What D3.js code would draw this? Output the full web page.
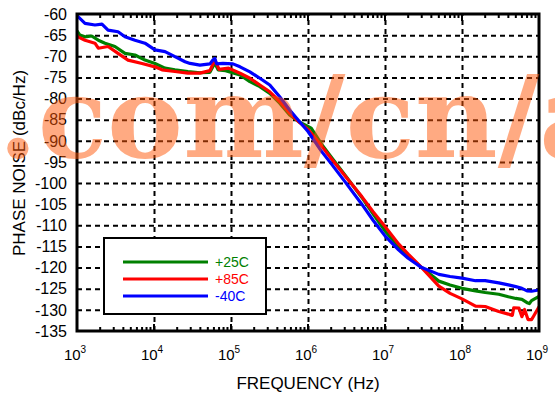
<!DOCTYPE html>
<html lang="en">
<head>
<meta charset="utf-8">
<title>Phase noise vs frequency</title>
<script src="https://cdn.jsdelivr.net/npm/d3@7"></script>
<style>
  body { margin: 0; background: #fff; }
  #chart text { font-family: "Liberation Sans", Arial, sans-serif; fill: #000; }
  .grid line { stroke: #000; stroke-width: 2; stroke-dasharray: 5,4; }
  .grid path { display: none; }
</style>
</head>
<body>
<div id="chart"></div>
<script>
// +25C (green)
var freq25 = [1e3, 1.09e3, 1.27e3, 1.55e3, 1.89e3, 2.31e3, 3.11e3, 4.2e3, 5.66e3, 7.63e3, 1.03e4, 1.39e4, 1.87e4, 2.76e4, 3.95e4, 5.32e4, 6.17e4, 6.8e4, 8.5e4, 1.31e5, 1.76e5, 2.37e5, 3.19e5, 4.29e5, 5.78e5, 7.78e5, 1e6, 1.1e6, 1.5e6, 2e6, 3e6, 5e6, 7e6, 1e7, 1.5e7, 2e7, 3e7, 5e7, 7e7, 1e8, 1.5e8, 2e8, 3e8, 4e8, 5e8, 6e8, 7e8, 7.5e8, 8e8, 1e9];
var pn25 = [-64.0, -65.0, -65.4, -65.2, -66.2, -66.9, -67.7, -69.3, -69.7, -70.9, -71.7, -72.8, -73.2, -73.6, -73.9, -73.8, -71.6, -73.2, -73.4, -74.4, -76.0, -77.2, -78.8, -81.1, -83.9, -85.6, -86.6, -87.0, -90.8, -93.8, -98.0, -103.4, -107.3, -111.3, -115.0, -117.2, -120.0, -123.2, -124.1, -124.9, -125.5, -125.9, -126.3, -126.9, -127.3, -127.5, -128.3, -128.5, -127.8, -126.8];

// +85C (red)
var freq85 = [1e3, 1.03e3, 1.27e3, 1.71e3, 1.89e3, 2.53e3, 3.41e3, 4.6e3, 6.98e3, 1.03e4, 1.27e4, 1.87e4, 2.76e4, 3.95e4, 5.32e4, 6.17e4, 7.0e4, 9.3e4, 1.31e5, 1.76e5, 2.37e5, 3.19e5, 4.29e5, 5.78e5, 7.78e5, 1e6, 1.5e6, 2e6, 3e6, 5e6, 7e6, 1e7, 1.5e7, 2e7, 3e7, 5e7, 7e7, 1e8, 1.5e8, 2e8, 3e8, 4e8, 4.5e8, 4.7e8, 5.5e8, 6e8, 6.5e8, 7.2e8, 8e8, 8.5e8, 1e9];
var pn85 = [-65.0, -65.4, -66.2, -66.9, -68.1, -67.7, -69.3, -70.9, -71.7, -72.5, -73.2, -73.6, -74.0, -74.0, -73.4, -70.9, -73.1, -72.8, -74.0, -75.2, -76.8, -78.4, -80.7, -83.5, -85.7, -87.3, -91.2, -94.2, -98.2, -103.2, -106.8, -110.3, -114.4, -116.8, -120.0, -124.4, -126.1, -127.4, -129.1, -129.2, -130.4, -131.0, -131.3, -129.5, -129.6, -131.6, -129.9, -132.3, -132.3, -131.5, -129.3];

// -40C (blue)
var freq40 = [1e3, 1.03e3, 1.27e3, 1.71e3, 2.11e3, 2.53e3, 3.41e3, 4.2e3, 5.66e3, 7.63e3, 1.03e4, 1.39e4, 1.87e4, 2.53e4, 2.94e4, 3.95e4, 5.32e4, 5.82e4, 6.17e4, 6.5e4, 7.85e4, 1.06e5, 1.31e5, 1.76e5, 2.37e5, 3.19e5, 4.29e5, 5.78e5, 7.78e5, 1e6, 1.5e6, 2e6, 3e6, 5e6, 7e6, 1e7, 1.5e7, 2e7, 3e7, 5e7, 7e7, 1e8, 1.5e8, 2e8, 3e8, 4e8, 5e8, 6e8, 7e8, 8e8, 1e9];
var pn40 = [-60.2, -60.6, -62.2, -62.6, -62.4, -63.8, -64.2, -65.4, -66.2, -66.9, -68.5, -68.9, -70.1, -71.3, -71.7, -72.1, -71.8, -70.9, -70.5, -71.8, -71.7, -71.8, -72.5, -73.7, -75.2, -76.8, -79.6, -82.7, -85.5, -87.8, -92.5, -95.4, -99.6, -105.0, -108.8, -112.5, -115.8, -117.8, -120.0, -121.6, -122.1, -122.5, -123.1, -123.1, -123.6, -124.1, -124.5, -124.9, -125.5, -125.6, -125.3];

var seriesNames = ["+25C", "+85C", "-40C"];
var seriesColors = ["#008000", "#ff0000", "#0000ff"];
var yTicks = [-60, -65, -70, -75, -80, -85, -90, -95, -100, -105, -110, -115, -120, -125, -130, -135];
var xTicks = [1e3, 1e4, 1e5, 1e6, 1e7, 1e8, 1e9];

var W = 555, H = 395;
var pLeft = 77, pRight = 539, pTop = 14, pBottom = 331;

var svg = d3.select("#chart").append("svg")
    .attr("width", W)
    .attr("height", H);

var x = d3.scaleLog().domain([1e3, 1e9]).range([pLeft, pRight]);
var y = d3.scaleLinear().domain([-135, -60]).range([pBottom, pTop]);

// dashed grid
svg.append("g")
   .attr("class", "grid")
   .attr("transform", "translate(" + pLeft + ",0)")
   .call(d3.axisLeft(y).tickValues(yTicks.filter(function(d){ return d > -135 && d < -60; }))
         .tickSize(-(pRight - pLeft)).tickFormat(""));
svg.append("g")
   .attr("class", "grid")
   .attr("transform", "translate(0," + pBottom + ")")
   .call(d3.axisBottom(x).tickValues(xTicks.slice(1, -1))
         .tickSize(-(pBottom - pTop)).tickFormat(""));

// minor + major ticks on top and bottom, pointing inward
var minor = [];
for (var e = 3; e < 9; e++) {
    for (var m = 2; m < 10; m++) minor.push(m * Math.pow(10, e));
}
[[pBottom, -1], [pTop, 1]].forEach(function(s) {
    var g = svg.append("g");
    g.selectAll("line.mn").data(minor).enter().append("line")
     .attr("x1", function(d){ return x(d); }).attr("x2", function(d){ return x(d); })
     .attr("y1", s[0]).attr("y2", s[0] + s[1] * 4)
     .attr("stroke", "#000").attr("stroke-width", 2);
    g.selectAll("line.mj").data(xTicks).enter().append("line")
     .attr("x1", function(d){ return x(d); }).attr("x2", function(d){ return x(d); })
     .attr("y1", s[0]).attr("y2", s[0] + s[1] * 7)
     .attr("stroke", "#000").attr("stroke-width", 2);
});

// curves
var line = d3.line()
    .x(function(d){ return x(d[0]); })
    .y(function(d){ return y(d[1]); });

var curves = [
    d3.zip(freq25, pn25),
    d3.zip(freq85, pn85),
    d3.zip(freq40, pn40)
];

svg.append("defs").append("clipPath").attr("id", "plotclip")
   .append("rect").attr("x", pLeft).attr("y", pTop - 2)
   .attr("width", pRight - pLeft).attr("height", pBottom - pTop + 2);

svg.append("g").attr("clip-path", "url(#plotclip)")
   .selectAll("path").data(curves).enter().append("path")
   .attr("d", line)
   .attr("fill", "none")
   .attr("stroke", function(d, i){ return seriesColors[i]; })
   .attr("stroke-width", 3.2)
   .attr("stroke-linejoin", "round");

// frame
svg.append("rect")
   .attr("x", pLeft).attr("y", pTop)
   .attr("width", pRight - pLeft).attr("height", pBottom - pTop)
   .attr("fill", "none").attr("stroke", "#000").attr("stroke-width", 3);

// y tick labels
svg.append("g").selectAll("text").data(yTicks).enter().append("text")
   .attr("x", 67)
   .attr("y", function(d){ return y(d); })
   .attr("dy", "0.36em")
   .attr("text-anchor", "end")
   .style("font-size", "16px")
   .text(function(d){ return d; });

// x tick labels 10^n
var xl = svg.append("g").selectAll("text").data(xTicks).enter().append("text")
   .attr("x", function(d){ return x(d) - 2; })
   .attr("y", 360)
   .attr("text-anchor", "middle")
   .style("font-size", "15px");
xl.append("tspan").text("10");
xl.append("tspan")
  .attr("dy", -7)
  .style("font-size", "10px")
  .text(function(d){ return Math.round(Math.log10(d)); });

// axis titles
svg.append("text")
   .attr("x", (pLeft + pRight) / 2)
   .attr("y", 389)
   .attr("text-anchor", "middle")
   .style("font-size", "17px")
   .text("FREQUENCY (Hz)");

svg.append("text")
   .attr("transform", "translate(25," + 163 + ") rotate(-90)")
   .attr("text-anchor", "middle")
   .style("font-size", "17px")
   .text("PHASE NOISE (dBc/Hz)");

// legend
var lg = svg.append("g");
lg.append("rect")
  .attr("x", 104).attr("y", 238)
  .attr("width", 162).attr("height", 76)
  .attr("fill", "#fff").attr("stroke", "#000").attr("stroke-width", 2);
seriesNames.forEach(function(n, i) {
    var yy = 262 + i * 17;
    lg.append("line")
      .attr("x1", 123).attr("x2", 208)
      .attr("y1", yy).attr("y2", yy)
      .attr("stroke", seriesColors[i]).attr("stroke-width", 3);
    lg.append("text")
      .attr("x", 215).attr("y", yy + 5)
      .style("font-size", "14px")
      .style("fill", seriesColors[i])
      .text(n);
});

// watermark overlay from the source image
svg.append("text")
   .attr("x", -2).attr("y", 157)
   .style("font-family", "'DejaVu Serif', serif")
   .style("font-weight", "bold")
   .style("font-size", "114px")
   .style("fill", "#ff5505")
   .style("fill-opacity", 0.5)
   .text(".com/cn/a");
</script>
</body>
</html>
